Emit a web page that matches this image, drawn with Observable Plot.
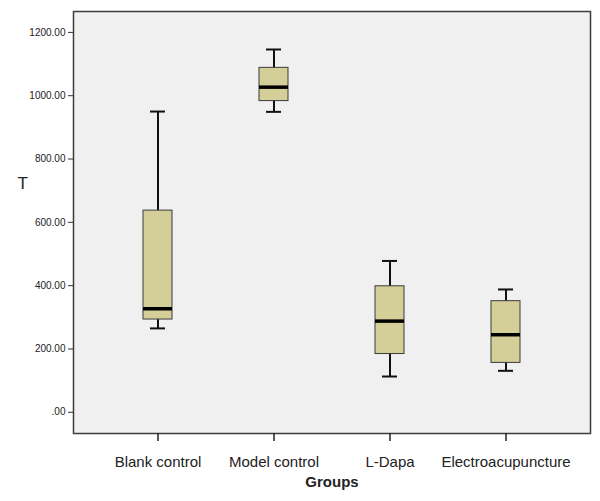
<!DOCTYPE html>
<html><head><meta charset="utf-8">
<script src="https://cdn.jsdelivr.net/npm/d3@7"></script>
<script src="https://cdn.jsdelivr.net/npm/@observablehq/plot@0.6"></script>
<style>body{margin:0;background:#fff}</style>
</head><body><div id="chart"></div>
<script>
const groups = ["Blank control", "Model control", "L-Dapa", "Electroacupuncture"];
const whiskerLow = [265, 949, 113, 131];
const q1 = [293, 983, 184, 156];
const median = [327, 1027, 288, 245];
const q3 = [637, 1088, 398, 351];
const whiskerHigh = [950, 1146, 478, 388];
const yTicks = [0, 200, 400, 600, 800, 1000, 1200];
const xLabel = "Groups";
const yLabel = "T";

const data = groups.map((g, i) => ({group: g, lo: whiskerLow[i], q1: q1[i], med: median[i], q3: q3[i], hi: whiskerHigh[i]}));
const fmt = d => d === 0 ? ".00" : d.toFixed(2);

const chart = Plot.plot({
  width: 600,
  height: 501,
  marginLeft: 73,
  marginRight: 10,
  marginTop: 11,
  marginBottom: 68,
  style: {fontFamily: "'Liberation Sans', Arial, sans-serif", color: "#222", background: "#fff"},
  x: {type: "band", domain: groups, paddingInner: 0.75, paddingOuter: 0.59, label: null},
  y: {domain: [-67, 1266], label: null},
  marks: [
    Plot.frame({fill: "#f0f0f0", stroke: "#3c3c3c", strokeWidth: 1.5}),
    Plot.axisY({ticks: yTicks, tickFormat: fmt, tickSize: 5, tickPadding: 3, fontSize: 10, label: null, stroke: "#333"}),
    Plot.axisX({tickSize: 8, tickPadding: 15, fontSize: 15, label: null, strokeWidth: 1.5}),
    Plot.ruleX(data, {x: "group", y1: "lo", y2: "hi", stroke: "#111", strokeWidth: 2}),
    Plot.barY(data, {x: "group", y1: "q1", y2: "q3", fill: "#d4ce98", stroke: "#3a3a3a", strokeWidth: 1}),
    Plot.tickY(data, {x: "group", y: "med", stroke: "#000", strokeWidth: 3.5}),
    Plot.tickY(data, {x: "group", y: "lo", stroke: "#111", strokeWidth: 2, insetLeft: 7, insetRight: 7}),
    Plot.tickY(data, {x: "group", y: "hi", stroke: "#111", strokeWidth: 2, insetLeft: 7, insetRight: 7}),
    Plot.text([xLabel], {frameAnchor: "bottom", dy: 53, fontWeight: "bold", fontSize: 15, fill: "#222"}),
    Plot.text([yLabel], {frameAnchor: "left", dx: -56, dy: -39, fontSize: 17, fill: "#222"})
  ]
});
document.getElementById("chart").appendChild(chart);
</script>
</body></html>
